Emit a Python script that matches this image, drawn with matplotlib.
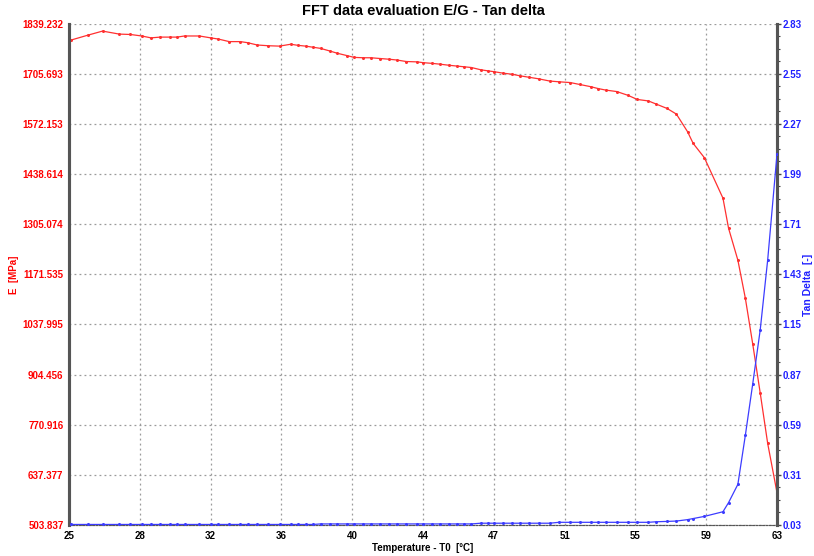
import numpy as np
import matplotlib
matplotlib.use("Agg")
import matplotlib.pyplot as plt
from matplotlib.ticker import AutoMinorLocator

# dados
temperatura = [25.1, 26.0, 26.8, 27.7, 28.3, 28.9, 29.4, 29.9, 30.4, 30.8,
               31.2, 32.0, 32.6, 33.0, 33.6, 34.2, 34.6, 35.1, 35.7, 36.3,
               36.9, 37.3, 37.7, 38.1, 38.5, 39.0, 39.4, 39.9, 40.3, 40.8,
               41.2, 41.7, 42.2, 42.6, 43.1, 43.7, 44.0, 44.5, 44.9, 45.4,
               45.8, 46.2, 46.6, 47.1, 47.5, 47.8, 48.3, 48.8, 49.2, 49.7,
               50.2, 50.8, 51.3, 51.9, 52.4, 53.0, 53.4, 53.8, 54.4, 55.0,
               55.5, 56.1, 56.5, 57.1, 57.6, 58.2, 58.5, 59.1, 60.1, 60.4,
               60.9, 61.3, 61.7, 62.1, 62.5, 63.0]

modulo_E = [1795, 1808, 1819, 1811, 1810, 1806, 1801, 1803, 1803, 1803,
            1806, 1806, 1801, 1798, 1791, 1791, 1788, 1782, 1780, 1779,
            1784, 1781, 1779, 1776, 1773, 1766, 1760, 1754, 1749, 1748,
            1748, 1746, 1744, 1742, 1738, 1737, 1735, 1733, 1731, 1728,
            1726, 1724, 1722, 1716, 1713, 1711, 1707, 1704, 1700, 1696,
            1692, 1686, 1684, 1682, 1677, 1671, 1666, 1662, 1658, 1648,
            1637, 1633, 1625, 1613, 1598, 1551, 1520, 1482, 1374, 1294,
            1209, 1108, 985, 855, 721, 590]

tan_delta = [0.033, 0.033, 0.033, 0.033, 0.033, 0.033, 0.033, 0.033, 0.033, 0.033,
             0.033, 0.033, 0.033, 0.033, 0.033, 0.033, 0.033, 0.033, 0.033, 0.033,
             0.033, 0.033, 0.033, 0.033, 0.036, 0.036, 0.036, 0.036, 0.036, 0.036,
             0.036, 0.036, 0.036, 0.036, 0.036, 0.036, 0.036, 0.036, 0.036, 0.036,
             0.036, 0.036, 0.036, 0.040, 0.040, 0.040, 0.040, 0.040, 0.040, 0.040,
             0.040, 0.040, 0.045, 0.045, 0.045, 0.045, 0.045, 0.045, 0.045, 0.045,
             0.045, 0.045, 0.048, 0.050, 0.052, 0.060, 0.066, 0.078, 0.104, 0.155,
             0.257, 0.53, 0.82, 1.12, 1.51, 2.10]

ticks_x = [25 + 3.8 * i for i in range(11)]
rotulos_x = ["25", "28", "32", "36", "40", "44", "47", "51", "55", "59", "63"]

rotulos_E = ["503.837", "637.377", "770.916", "904.456", "1037.995", "1171.535",
             "1305.074", "1438.614", "1572.153", "1705.693", "1839.232"]
rotulos_tan = ["0.03", "0.31", "0.59", "0.87", "1.15", "1.43",
               "1.71", "1.99", "2.27", "2.55", "2.83"]

plt.rcParams["font.family"] = ["Liberation Sans", "DejaVu Sans"]
plt.rcParams["font.weight"] = "bold"

fig = plt.figure(figsize=(8.14, 5.56), dpi=100)
ax = fig.add_axes([69 / 814, 31 / 556, 708 / 814, 501.5 / 556])
ax2 = ax.twinx()

ax.set_xlim(25, 63)
ax.set_ylim(float(rotulos_E[0]), float(rotulos_E[-1]))
ax2.set_ylim(float(rotulos_tan[0]), float(rotulos_tan[-1]))

ax.set_xticks(ticks_x)
ax.set_xticklabels(rotulos_x)
ax.set_yticks([float(v) for v in rotulos_E])
ax.set_yticklabels(rotulos_E)
ax2.set_yticks([float(v) for v in rotulos_tan])
ax2.set_yticklabels(rotulos_tan)

ax.grid(True, color="#9a9a9a", linestyle=(0, (1.5, 2.5)), linewidth=0.9)

ax.plot(temperatura, modulo_E, color="#ff3030", lw=0.9, marker="o", ms=1.2, zorder=3)
ax2.plot(temperatura, tan_delta, color="#3c3cff", lw=0.9, marker="o", ms=1.2, zorder=3)

ax.tick_params(axis="x", length=0, pad=4, labelsize=7, colors="#000000")
ax.tick_params(axis="y", length=0, pad=4, labelsize=7, labelcolor="#ff0000")
ax2.tick_params(axis="y", which="major", length=3, width=1, color="#444444",
                pad=1, labelsize=7, labelcolor="#2020ff")
ax2.yaxis.set_minor_locator(AutoMinorLocator(4))
ax2.tick_params(axis="y", which="minor", length=2, width=0.8, color="#444444")

for a in (ax, ax2):
    a.spines["top"].set_visible(False)
    a.spines["left"].set_linewidth(2.2)
    a.spines["left"].set_color("#555555")
    a.spines["right"].set_linewidth(2.2)
    a.spines["right"].set_color("#555555")
    a.spines["bottom"].set_color("#555555")
    a.spines["bottom"].set_linestyle((0, (1.5, 1.5)))

ax.set_title("FFT data evaluation E/G - Tan delta", fontsize=10.5, fontweight="bold", pad=6)
ax.set_xlabel("Temperature - T0  [°C]", fontsize=7, fontweight="bold", labelpad=2)
fig.text(14 / 814, 1 - 275 / 556, "E  [MPa]", rotation=90, fontsize=7,
         fontweight="bold", color="#ff0000", ha="center", va="center")
fig.text(808 / 814, 1 - 285 / 556, "Tan Delta  [-]", rotation=90, fontsize=7.5,
         fontweight="bold", color="#2020ff", ha="center", va="center")

fig.savefig("out.png", dpi=100)
